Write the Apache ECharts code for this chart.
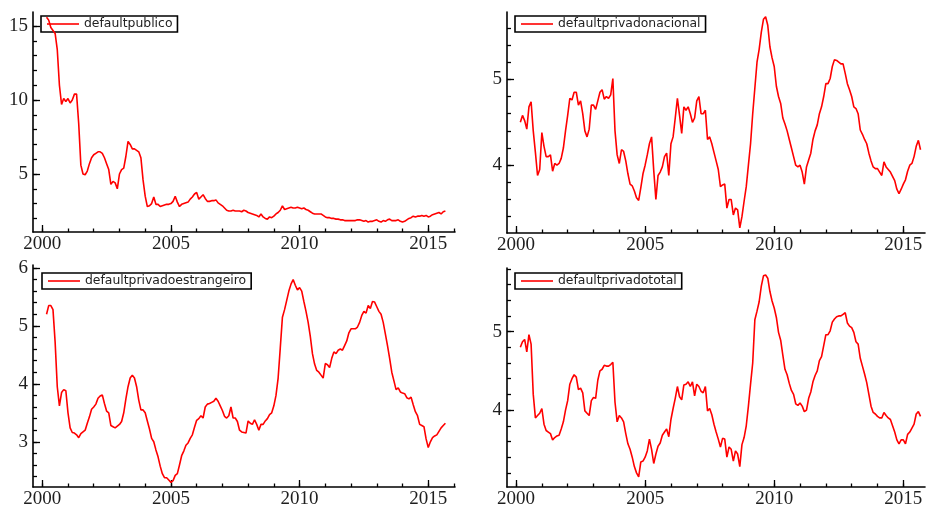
<!DOCTYPE html>
<html>
<head>
<meta charset="utf-8">
<script src="https://cdn.jsdelivr.net/npm/echarts@6/dist/echarts.min.js"></script>
<style>
  html, body { margin: 0; padding: 0; background: #fff; }
  #chart { width: 927px; height: 509px; }
</style>
</head>
<body>
<div id="chart"></div>
<script>
// Monthly observations, March 2000 to September 2015
const firstYear = 2000;
const firstMonth = 3;

const defaultpublico = [
  15.6, 15.4, 14.9, 14.7, 14.5, 13.4, 11.0, 9.7, 10.1, 9.9,
  10.1, 9.8, 10.0, 10.4, 10.4, 8.4, 5.6, 5.0, 4.95, 5.2, 5.7, 6.1,
  6.3, 6.4, 6.5, 6.5, 6.4, 6.1, 5.7, 5.3, 4.3, 4.5, 4.4, 4.0,
  5.0, 5.3, 5.4, 6.2, 7.2, 7.0, 6.7, 6.7, 6.6, 6.5, 6.1, 4.6,
  3.5, 2.8, 2.85, 3.0, 3.45, 2.95, 2.95, 2.8, 2.85, 2.9, 2.95, 2.95,
  3.0, 3.15, 3.5, 3.1, 2.8, 2.95, 3.0, 3.05, 3.1, 3.3, 3.45, 3.65,
  3.75, 3.3, 3.45, 3.6, 3.35, 3.15, 3.15, 3.2, 3.2, 3.25, 3.05, 2.95,
  2.85, 2.7, 2.55, 2.5, 2.5, 2.55, 2.5, 2.5, 2.5, 2.45, 2.55, 2.5,
  2.4, 2.35, 2.3, 2.25, 2.2, 2.1, 2.3, 2.1, 2.0, 1.95, 2.1, 2.05,
  2.15, 2.3, 2.4, 2.55, 2.85, 2.6, 2.65, 2.7, 2.75, 2.7, 2.7, 2.75,
  2.7, 2.65, 2.7, 2.6, 2.55, 2.45, 2.35, 2.3, 2.3, 2.3, 2.3, 2.2,
  2.1, 2.05, 2.05, 2.0, 2.0, 1.95, 1.95, 1.9, 1.9, 1.85, 1.85, 1.85,
  1.85, 1.85, 1.85, 1.9, 1.9, 1.85, 1.8, 1.85, 1.75, 1.8, 1.8, 1.85,
  1.9, 1.8, 1.75, 1.85, 1.8, 1.9, 1.95, 1.85, 1.85, 1.85, 1.9, 1.8,
  1.75, 1.8, 1.9, 2.0, 2.05, 2.15, 2.1, 2.15, 2.15, 2.2, 2.15, 2.2,
  2.1, 2.15, 2.25, 2.3, 2.35, 2.4, 2.3, 2.45, 2.5
];

const defaultprivadonacional = [
  4.5, 4.58, 4.52, 4.42, 4.68, 4.74, 4.4, 4.15, 3.88, 3.95,
  4.38, 4.22, 4.1, 4.1, 4.12, 3.93, 4.02, 4.0, 4.02, 4.08, 4.2, 4.4,
  4.58, 4.78, 4.76, 4.85, 4.85, 4.7, 4.75, 4.6, 4.4, 4.33, 4.42, 4.7,
  4.7, 4.65, 4.75, 4.85, 4.88, 4.77, 4.8, 4.78, 4.82, 5.01, 4.4, 4.12,
  4.02, 4.18, 4.16, 4.05, 3.9, 3.78, 3.76, 3.7, 3.62, 3.59, 3.74, 3.9,
  4.0, 4.12, 4.25, 4.33, 3.94, 3.6, 3.88, 3.92, 3.98, 4.1, 4.14, 3.88,
  4.25, 4.33, 4.55, 4.78, 4.58, 4.37, 4.68, 4.64, 4.68, 4.6, 4.5, 4.55,
  4.75, 4.8, 4.6, 4.6, 4.64, 4.3, 4.33, 4.25, 4.15, 4.05, 3.95, 3.75,
  3.77, 3.78, 3.5, 3.6, 3.6, 3.42, 3.5, 3.48, 3.27, 3.4, 3.58, 3.75,
  4.0, 4.25, 4.6, 4.9, 5.2, 5.35, 5.55, 5.7, 5.73, 5.63, 5.38, 5.25,
  5.15, 4.92, 4.8, 4.72, 4.55, 4.48, 4.4, 4.3, 4.2, 4.1, 4.0, 3.98,
  4.0, 3.92, 3.78, 3.98, 4.06, 4.14, 4.3, 4.4, 4.47, 4.6, 4.68, 4.8,
  4.95, 4.95, 5.01, 5.15, 5.23, 5.22, 5.2, 5.18, 5.18, 5.07, 4.95, 4.88,
  4.8, 4.68, 4.66, 4.6, 4.41, 4.36, 4.3, 4.25, 4.14, 4.05, 3.98, 3.96,
  3.96, 3.92, 3.88, 4.04, 3.98, 3.95, 3.92, 3.87, 3.82, 3.72, 3.67, 3.72,
  3.78, 3.83, 3.93, 4.0, 4.02, 4.1, 4.22, 4.29, 4.18
];

const defaultprivadoestrangeiro = [
  5.2, 5.35, 5.35, 5.28, 4.72, 3.95, 3.62, 3.85, 3.9, 3.88,
  3.5, 3.24, 3.16, 3.15, 3.12, 3.07, 3.14, 3.17, 3.2, 3.32, 3.43, 3.56,
  3.6, 3.65, 3.75, 3.79, 3.81, 3.66, 3.53, 3.5, 3.28, 3.26, 3.24, 3.27,
  3.3, 3.35, 3.5, 3.74, 3.95, 4.1, 4.15, 4.1, 3.95, 3.72, 3.55, 3.55,
  3.5, 3.36, 3.22, 3.06, 3.0, 2.86, 2.74, 2.58, 2.45, 2.38, 2.38, 2.34,
  2.3, 2.33, 2.42, 2.45, 2.6, 2.76, 2.84, 2.94, 2.98, 3.06, 3.12, 3.25,
  3.37, 3.4, 3.45, 3.41, 3.6, 3.65, 3.66, 3.68, 3.7, 3.75, 3.7, 3.62,
  3.54, 3.44, 3.41, 3.45, 3.6, 3.41, 3.41, 3.35, 3.2, 3.17, 3.16, 3.15,
  3.36, 3.32, 3.3, 3.38, 3.3, 3.2, 3.3, 3.3, 3.36, 3.4, 3.47, 3.5,
  3.62, 3.8, 4.1, 4.62, 5.15, 5.28, 5.44, 5.6, 5.72, 5.8, 5.7, 5.62,
  5.66, 5.6, 5.42, 5.25, 5.06, 4.82, 4.52, 4.34, 4.23, 4.2, 4.15, 4.1,
  4.35, 4.33, 4.28, 4.44, 4.55, 4.52, 4.58, 4.6, 4.58, 4.66, 4.74, 4.88,
  4.95, 4.95, 4.95, 4.98, 5.06, 5.18, 5.25, 5.22, 5.35, 5.3, 5.42, 5.41,
  5.33, 5.25, 5.2, 5.06, 4.86, 4.66, 4.44, 4.2, 4.05, 3.9, 3.93, 3.86,
  3.84, 3.83, 3.76, 3.74, 3.77, 3.64, 3.52, 3.45, 3.3, 3.28, 3.26, 3.05,
  2.9, 3.0, 3.07, 3.1, 3.12, 3.18, 3.24, 3.28, 3.32
];

const defaultprivadototal = [
  4.8, 4.87, 4.9, 4.74, 4.96, 4.84, 4.2, 3.9, 3.93, 3.96,
  4.02, 3.82, 3.74, 3.72, 3.7, 3.62, 3.65, 3.67, 3.68, 3.76, 3.85, 4.0,
  4.12, 4.33, 4.4, 4.45, 4.42, 4.26, 4.28, 4.22, 3.99, 3.96, 3.93, 4.12,
  4.16, 4.15, 4.38, 4.5, 4.52, 4.57, 4.56, 4.56, 4.58, 4.61, 4.1, 3.85,
  3.93, 3.9, 3.85, 3.7, 3.57, 3.5, 3.4, 3.28, 3.2, 3.15, 3.34, 3.35,
  3.4, 3.48, 3.63, 3.5, 3.32, 3.44, 3.54, 3.58, 3.68, 3.72, 3.76, 3.66,
  3.88, 4.02, 4.15, 4.3, 4.17, 4.13, 4.32, 4.33, 4.36, 4.3, 4.36, 4.18,
  4.33, 4.3, 4.24, 4.22, 4.3, 3.99, 4.02, 3.94, 3.82, 3.72, 3.63, 3.53,
  3.64, 3.63, 3.4, 3.53, 3.5, 3.35, 3.48, 3.44, 3.28, 3.56, 3.65, 3.8,
  4.05, 4.33, 4.6, 5.15, 5.26, 5.38, 5.58, 5.71, 5.72, 5.68, 5.51, 5.39,
  5.3, 5.18, 4.99, 4.89, 4.7, 4.52, 4.45, 4.34, 4.25, 4.2, 4.08, 4.06,
  4.09, 4.05, 3.98, 4.0, 4.15, 4.23, 4.36, 4.44, 4.5, 4.63, 4.68, 4.82,
  4.96, 4.96, 5.01, 5.12, 5.16, 5.19, 5.2, 5.2, 5.22, 5.24, 5.11, 5.07,
  5.05, 4.99, 4.87, 4.84, 4.66, 4.56, 4.46, 4.35, 4.2, 4.05, 3.97, 3.95,
  3.92, 3.9, 3.9, 3.97, 3.93, 3.9, 3.88, 3.8, 3.72, 3.62, 3.57, 3.62,
  3.62, 3.57, 3.69, 3.72, 3.77, 3.82, 3.95, 3.98, 3.92
];

// Axis tick labels
const yearLabels = [2000, 2005, 2010, 2015];
const yearTicks = [2000, 2001, 2002, 2003, 2004, 2005, 2006, 2007, 2008,
                   2009, 2010, 2011, 2012, 2013, 2014, 2015, 2016];
const publicoLabels = [5, 10, 15];
const nacionalLabels = [4, 5];
const estrangeiroLabels = [3, 4, 5, 6];
const totalLabels = [4, 5];

function steps(from, to, step) {
  const out = [];
  for (let v = from; v <= to + 1e-9; v += step) out.push(Math.round(v * 100) / 100);
  return out;
}

function toPairs(values) {
  return values.map((v, i) => [firstYear + (firstMonth - 1 + i) / 12, v]);
}

const panels = [
  { name: 'defaultpublico', values: defaultpublico,
    grid: { left: 33, top: 12, width: 422, height: 220 },
    x: [1999.64, 2016.04], y: [1.08, 15.95],
    yLabels: publicoLabels, yMinor: steps(2, 15, 1),
    legend: { left: 41, top: 16 } },
  { name: 'defaultprivadonacional', values: defaultprivadonacional,
    grid: { left: 507, top: 12, width: 418, height: 221 },
    x: [1999.65, 2015.84], y: [3.21, 5.785],
    yLabels: nacionalLabels, yMinor: steps(3.4, 5.6, 0.2),
    legend: { left: 515, top: 16 } },
  { name: 'defaultprivadoestrangeiro', values: defaultprivadoestrangeiro,
    grid: { left: 33, top: 265, width: 422, height: 225 },
    x: [1999.64, 2016.04], y: [2.22, 6.05],
    yLabels: estrangeiroLabels, yMinor: steps(2.4, 6.0, 0.2),
    legend: { left: 42, top: 273 } },
  { name: 'defaultprivadototal', values: defaultprivadototal,
    grid: { left: 507, top: 268, width: 418, height: 222 },
    x: [1999.65, 2015.84], y: [3.02, 5.81],
    yLabels: totalLabels, yMinor: steps(3.2, 5.8, 0.2),
    legend: { left: 515, top: 273 } }
];

const ink = '#000';
const labelFont = { fontFamily: 'Liberation Serif', fontSize: 19, color: '#1e1e1e' };

const option = {
  animation: false,
  backgroundColor: '#fff',
  grid: [], xAxis: [], yAxis: [], series: [], legend: []
};

panels.forEach((p, g) => {
  const within = (arr, r) => arr.filter(v => v >= r[0] && v <= r[1]);
  option.grid.push(Object.assign({ containLabel: false }, p.grid));

  const xMajor = option.xAxis.length;
  option.xAxis.push({
    type: 'value', gridIndex: g, min: p.x[0], max: p.x[1], position: 'bottom',
    axisLine: { show: true, onZero: false, lineStyle: { color: ink, width: 1.6 } },
    axisTick: { show: true, inside: true, length: 7, customValues: yearLabels,
                lineStyle: { color: ink, width: 1.3 } },
    axisLabel: Object.assign({ customValues: yearLabels, margin: 3,
                formatter: v => String(Math.round(v)) }, labelFont),
    splitLine: { show: false }
  });
  option.xAxis.push({
    type: 'value', gridIndex: g, min: p.x[0], max: p.x[1], position: 'bottom',
    axisLine: { show: false, onZero: false },
    axisTick: { show: true, inside: true, length: 3.5, customValues: within(yearTicks, p.x),
                lineStyle: { color: ink, width: 1.3 } },
    axisLabel: { show: false },
    splitLine: { show: false }
  });

  const yMajor = option.yAxis.length;
  option.yAxis.push({
    type: 'value', gridIndex: g, min: p.y[0], max: p.y[1], position: 'left',
    axisLine: { show: true, onZero: false, lineStyle: { color: ink, width: 1.6 } },
    axisTick: { show: true, inside: true, length: 7, customValues: p.yLabels,
                lineStyle: { color: ink, width: 1.3 } },
    axisLabel: Object.assign({ customValues: p.yLabels, margin: 5 }, labelFont),
    splitLine: { show: false }
  });
  option.yAxis.push({
    type: 'value', gridIndex: g, min: p.y[0], max: p.y[1], position: 'left',
    axisLine: { show: false, onZero: false },
    axisTick: { show: true, inside: true, length: 4, customValues: within(p.yMinor, p.y),
                lineStyle: { color: ink, width: 1.3 } },
    axisLabel: { show: false },
    splitLine: { show: false }
  });

  option.series.push({
    name: p.name, type: 'line', xAxisIndex: xMajor, yAxisIndex: yMajor,
    data: toPairs(p.values), symbol: 'none', showSymbol: false,
    lineStyle: { color: '#ff0000', width: 1.6 },
    itemStyle: { color: '#ff0000' }, z: 5
  });

  option.legend.push({
    data: [{ name: p.name, icon: 'rect' }], left: p.legend.left, top: p.legend.top,
    orient: 'horizontal', itemWidth: 32, itemHeight: 1.6,
    padding: [2, 5, 2, 6], borderColor: ink, borderWidth: 1.6,
    selectedMode: false,
    itemStyle: { color: '#ff0000', borderWidth: 0 },
    textStyle: { fontFamily: 'DejaVu Sans', fontSize: 12.4, color: '#222' }
  });
});

const chart = echarts.init(document.getElementById('chart'), null, { renderer: 'canvas' });
chart.setOption(option);
</script>
</body>
</html>
